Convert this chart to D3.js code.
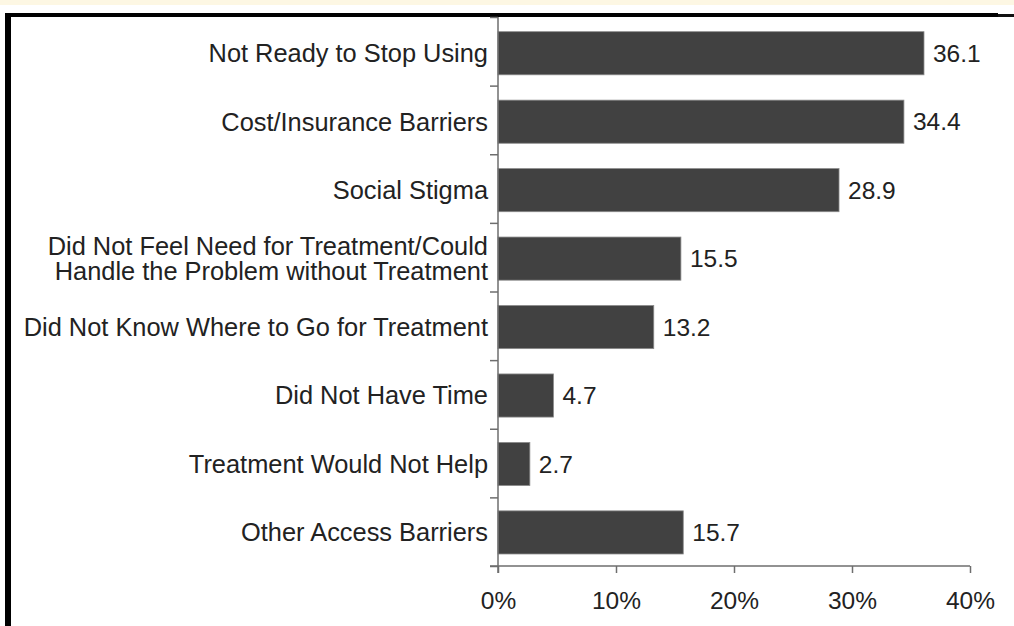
<!DOCTYPE html>
<html>
<head>
<meta charset="utf-8">
<script src="https://cdn.jsdelivr.net/npm/d3@7"></script>
<style>
  html, body { margin: 0; padding: 0; background: #fff; }
  svg { display: block; }
  text { font-family: "Liberation Sans", Arial, sans-serif; fill: #222; }
</style>
</head>
<body>
<svg id="chart" width="1014" height="626"></svg>
<script>
// data
var categories = [
  "Not Ready to Stop Using",
  "Cost/Insurance Barriers",
  "Social Stigma",
  "Did Not Feel Need for Treatment/Could\nHandle the Problem without Treatment",
  "Did Not Know Where to Go for Treatment",
  "Did Not Have Time",
  "Treatment Would Not Help",
  "Other Access Barriers"
];
var values = [36.1, 34.4, 28.9, 15.5, 13.2, 4.7, 2.7, 15.7];
var xTicks = [0, 10, 20, 30, 40];

var svg = d3.select('#chart');

// frame: cream strip on top, heavy black border top and left
svg.append('rect').attr('x', 0).attr('y', 0).attr('width', 1014).attr('height', 5).attr('fill', '#fdf7e3');
svg.append('rect').attr('x', 5).attr('y', 13).attr('width', 993).attr('height', 4).attr('fill', '#000');
svg.append('rect').attr('x', 998).attr('y', 14).attr('width', 16).attr('height', 3).attr('fill', '#111');
svg.append('rect').attr('x', 5).attr('y', 13).attr('width', 6).attr('height', 613).attr('fill', '#000');

var x = d3.scaleLinear().domain([0, 40]).range([498, 970]);
var y = d3.scaleBand().domain(categories).range([17, 566])
  .paddingInner(0.37).paddingOuter(0.195).align(0.55);
var yEdge = d3.scaleLinear().domain([0, categories.length]).range([17, 566]);

var axisColor = '#6e6e6e';

// bars
svg.append('g').selectAll('rect')
  .data(values)
  .enter().append('rect')
    .attr('x', x(0))
    .attr('y', function(d, i) { return y(categories[i]); })
    .attr('width', function(d) { return x(d) - x(0); })
    .attr('height', y.bandwidth())
    .attr('fill', '#414141')
    .attr('stroke', '#8a8a8a')
    .attr('stroke-width', 0.8);

// value labels
svg.append('g').selectAll('text')
  .data(values)
  .enter().append('text')
    .attr('x', function(d) { return x(d) + 9; })
    .attr('y', function(d, i) { return y(categories[i]) + y.bandwidth() / 2; })
    .attr('dy', '0.35em')
    .style('font-size', '24.5px')
    .text(function(d) { return d.toFixed(1); });

// y axis: boundary ticks, then category labels
var yAxis = svg.append('g').attr('transform', 'translate(' + x(0) + ',0)')
  .call(d3.axisLeft(yEdge).tickValues(d3.range(0, categories.length + 1)).tickSize(8).tickFormat(''));
yAxis.select('.domain').remove();
yAxis.selectAll('line').attr('stroke', axisColor).attr('stroke-width', 1.5);
yAxis.append('line')
  .attr('x1', 0).attr('x2', 0)
  .attr('y1', yEdge.range()[0]).attr('y2', yEdge.range()[1] + 7)
  .attr('stroke', axisColor).attr('stroke-width', 1.5);

var labels = svg.append('g').selectAll('text')
  .data(categories)
  .enter().append('text')
    .attr('text-anchor', 'end')
    .attr('x', x(0) - 10)
    .attr('y', function(d) { return y(d) + y.bandwidth() / 2; })
    .style('font-size', '25.4px');
labels.each(function(d) {
  var lines = d.split('\n'),
      t = d3.select(this);
  lines.forEach(function(line, k) {
    t.append('tspan')
      .attr('x', x(0) - 10)
      .attr('dy', k === 0 ? (0.35 - (lines.length - 1) * 0.51) + 'em' : '1.02em')
      .text(line);
  });
});

// x axis
var xAxis = svg.append('g').attr('transform', 'translate(0,' + yEdge.range()[1] + ')')
  .call(d3.axisBottom(x).tickValues(xTicks).tickSize(7).tickSizeOuter(0).tickPadding(19)
    .tickFormat(function(d) { return d + '%'; }));
xAxis.select('.domain').remove();
xAxis.selectAll('line').attr('stroke', axisColor).attr('stroke-width', 1.5);
xAxis.append('line')
  .attr('x1', x(0) - 8).attr('x2', x(40))
  .attr('y1', 0).attr('y2', 0)
  .attr('stroke', axisColor).attr('stroke-width', 1.5);
xAxis.selectAll('text')
  .style('font-size', '24.5px')
  .style('font-family', '"Liberation Sans", Arial, sans-serif')
  .attr('fill', '#222');
</script>
</body>
</html>
